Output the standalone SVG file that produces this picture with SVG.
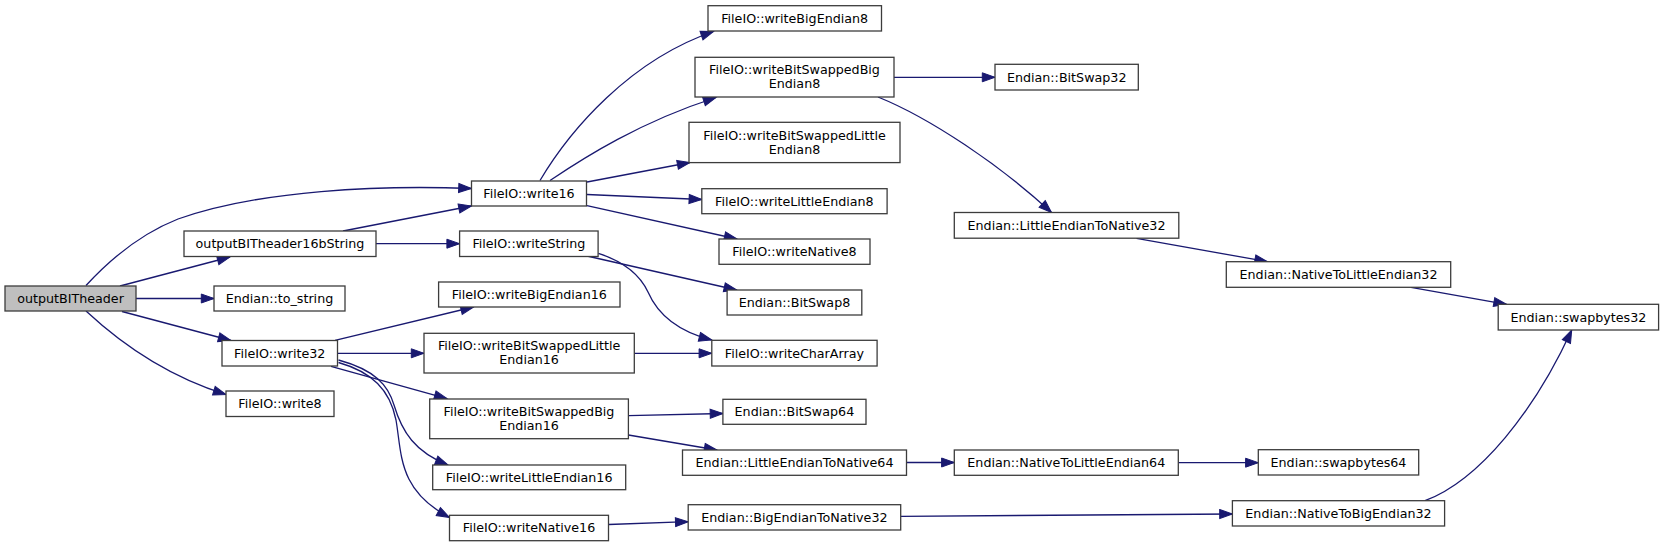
<svg xmlns="http://www.w3.org/2000/svg" width="1664" height="547" viewBox="0 0 1664 547">
<style>
.n rect{fill:#ffffff;stroke:#3c3c3c;stroke-width:1.3}
.n.root rect{fill:#bfbfbf}
.n text{font-family:"DejaVu Sans",Verdana,sans-serif;font-size:12.7px;fill:#000;text-anchor:middle}
.e path{fill:none;stroke:#191970;stroke-width:1.3;marker-end:url(#arr)}
</style>
<defs>
<marker id="arr" markerUnits="userSpaceOnUse" markerWidth="14" markerHeight="10" refX="12.7" refY="4.5" orient="auto" overflow="visible">
<path d="M0,0 L12.7,4.5 L0,9 Z" fill="#191970" stroke="#191970" stroke-width="1"/>
</marker>
</defs>
<rect width="1664" height="547" fill="#ffffff"/>
<g id="edges" class="e">
<path d="M86,285.5 C115,254 145,232 178,219 C260,190 380,185 471.4,188.5"/>
<path d="M120,286 L230,257"/>
<path d="M136,298.5 L214,298.5"/>
<path d="M122,311.5 L231,340.5"/>
<path d="M86,311 C115,338 160,374 226,394.5"/>
<path d="M343,231 L471.4,206"/>
<path d="M376,243.7 L459.6,243.7"/>
<path d="M540,180.5 C570,130 630,60 713.5,31.5"/>
<path d="M550,180.5 C585,157 640,122 716,97.5"/>
<path d="M587,182 L690,162.5"/>
<path d="M587,194.5 L701.8,199.5"/>
<path d="M587,205.7 L737,239"/>
<path d="M894,77.3 L995,77.3"/>
<path d="M878,97 C930,118 1000,165 1051.5,212.5"/>
<path d="M1136.5,238.3 L1267.5,261.7"/>
<path d="M1411,287.3 L1506.5,304.3"/>
<path d="M587,256 L736.7,290"/>
<path d="M598.3,253.3 C625,262 640,275 648,292 C658,315 680,332 711.7,340"/>
<path d="M335,340.3 L473.5,307"/>
<path d="M337.5,353.3 L424,353.3"/>
<path d="M331,366.3 L447,398.7"/>
<path d="M338.5,360 C375,370 388,385 394,405 C402,432 415,452 448,465"/>
<path d="M338.5,362.5 C372,372 390,390 396,420 C402,455 398,490 449.5,517.5"/>
<path d="M634.3,353.3 L711.8,353.3"/>
<path d="M628.4,415.7 L722.9,413.5"/>
<path d="M628.4,435 L717,450"/>
<path d="M608.6,524.5 L688.2,521.7"/>
<path d="M906.4,462.5 L954.3,462.5"/>
<path d="M1178.4,462.7 L1258.3,462.7"/>
<path d="M900.7,516.3 L1232.4,514"/>
<path d="M1425,500.7 C1480,480 1535,410 1571.7,330"/>
</g>
<g id="outputBITheader" class="n root"><rect x="5" y="286" width="131" height="25"/><text x="70.5" y="302.9">outputBITheader</text></g>
<g id="outputBITheader16bString" class="n"><rect x="184" y="231" width="192" height="25.5"/><text x="280" y="248.1">outputBITheader16bString</text></g>
<g id="to_string" class="n"><rect x="214" y="286" width="131" height="25"/><text x="279.5" y="302.9">Endian::to_string</text></g>
<g id="write32" class="n"><rect x="222" y="340.5" width="115.5" height="25.5"/><text x="279.7" y="357.7">FileIO::write32</text></g>
<g id="write8" class="n"><rect x="226" y="391" width="108" height="25.5"/><text x="280" y="408.2">FileIO::write8</text></g>
<g id="write16" class="n"><rect x="471.5" y="181" width="115" height="25"/><text x="529" y="197.9">FileIO::write16</text></g>
<g id="writeString" class="n"><rect x="459.6" y="231" width="138.5" height="25.5"/><text x="528.9" y="248.1">FileIO::writeString</text></g>
<g id="writeBigEndian16" class="n"><rect x="438.6" y="282" width="181.4" height="25"/><text x="529.3" y="298.9">FileIO::writeBigEndian16</text></g>
<g id="writeBitSwappedLittleEndian16" class="n"><rect x="424" y="333.3" width="210.3" height="39.7"/><text x="529.1" y="350.2">FileIO::writeBitSwappedLittle</text><text x="529.1" y="364.2">Endian16</text></g>
<g id="writeBitSwappedBigEndian16" class="n"><rect x="429.7" y="399" width="198.7" height="39.7"/><text x="529" y="415.8">FileIO::writeBitSwappedBig</text><text x="529" y="429.8">Endian16</text></g>
<g id="writeLittleEndian16" class="n"><rect x="432.7" y="465" width="193" height="24.7"/><text x="529.2" y="481.7">FileIO::writeLittleEndian16</text></g>
<g id="writeNative16" class="n"><rect x="449.5" y="515.3" width="159" height="25.4"/><text x="529" y="532.4">FileIO::writeNative16</text></g>
<g id="writeBigEndian8" class="n"><rect x="708" y="5.7" width="173.5" height="25.3"/><text x="794.7" y="22.7">FileIO::writeBigEndian8</text></g>
<g id="writeBitSwappedBigEndian8" class="n"><rect x="695" y="57.3" width="199" height="39.7"/><text x="794.5" y="74.2">FileIO::writeBitSwappedBig</text><text x="794.5" y="88.2">Endian8</text></g>
<g id="writeBitSwappedLittleEndian8" class="n"><rect x="689" y="122.3" width="211" height="40.3"/><text x="794.5" y="139.5">FileIO::writeBitSwappedLittle</text><text x="794.5" y="153.5">Endian8</text></g>
<g id="writeLittleEndian8" class="n"><rect x="701.8" y="188.7" width="185.3" height="25"/><text x="794.4" y="205.6">FileIO::writeLittleEndian8</text></g>
<g id="writeNative8" class="n"><rect x="719" y="239" width="151" height="25.3"/><text x="794.5" y="256.1">FileIO::writeNative8</text></g>
<g id="BitSwap8" class="n"><rect x="727.1" y="290" width="134.7" height="25"/><text x="794.5" y="306.9">Endian::BitSwap8</text></g>
<g id="writeCharArray" class="n"><rect x="711.8" y="340.3" width="165.3" height="25.7"/><text x="794.4" y="357.6">FileIO::writeCharArray</text></g>
<g id="BitSwap64" class="n"><rect x="722.9" y="399.3" width="143.1" height="25"/><text x="794.4" y="416.2">Endian::BitSwap64</text></g>
<g id="LittleEndianToNative64" class="n"><rect x="682.5" y="450" width="224" height="25.3"/><text x="794.5" y="467.1">Endian::LittleEndianToNative64</text></g>
<g id="BigEndianToNative32" class="n"><rect x="688.2" y="504.7" width="212.5" height="25.3"/><text x="794.4" y="521.7">Endian::BigEndianToNative32</text></g>
<g id="BitSwap32" class="n"><rect x="995" y="64.3" width="143.3" height="25.7"/><text x="1066.7" y="81.6">Endian::BitSwap32</text></g>
<g id="LittleEndianToNative32" class="n"><rect x="954.3" y="212.5" width="224.5" height="25.7"/><text x="1066.5" y="229.7">Endian::LittleEndianToNative32</text></g>
<g id="NativeToLittleEndian64" class="n"><rect x="954.3" y="450" width="224" height="25.3"/><text x="1066.3" y="467.1">Endian::NativeToLittleEndian64</text></g>
<g id="NativeToLittleEndian32" class="n"><rect x="1226.3" y="261.7" width="224.4" height="25.6"/><text x="1338.5" y="278.9">Endian::NativeToLittleEndian32</text></g>
<g id="swapbytes64" class="n"><rect x="1258.3" y="449.7" width="160.4" height="25.3"/><text x="1338.5" y="466.7">Endian::swapbytes64</text></g>
<g id="NativeToBigEndian32" class="n"><rect x="1232.4" y="500.7" width="212.2" height="25.3"/><text x="1338.5" y="517.7">Endian::NativeToBigEndian32</text></g>
<g id="swapbytes32" class="n"><rect x="1498.2" y="304.3" width="160.4" height="25.7"/><text x="1578.4" y="321.6">Endian::swapbytes32</text></g>
</svg>
